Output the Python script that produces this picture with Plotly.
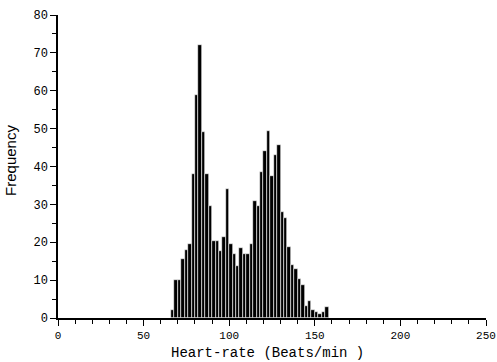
import plotly.graph_objects as go

# Heart-rate bin centres (2 beats/min bins) and frequencies
bin_centers = [67, 69, 71, 73, 75, 77, 79, 81, 83, 85, 87, 89, 91, 93, 95, 97, 99,
               101, 103, 105, 107, 109, 111, 113, 115, 117, 119, 121, 123, 125, 127,
               129, 131, 133, 135, 137, 139, 141, 143, 145, 147, 149, 151, 153, 155, 157]
frequencies = [2, 10, 10, 15.5, 18, 19.5, 38, 59, 72, 49, 38, 29.5, 20.3, 20.3, 17.7,
               21.5, 34, 19.5, 17, 13.7, 18.5, 17, 17, 19.5, 31, 29.5, 38.5, 44, 49.5,
               37.5, 43, 45.7, 28, 26.5, 18.8, 14, 13, 10.4, 8.6, 3.2, 4.5, 2, 1.7, 1, 1.5, 3]

x_ticks = [0, 50, 100, 150, 200, 250]
y_ticks = [0, 10, 20, 30, 40, 50, 60, 70, 80]

fig = go.Figure()
fig.add_trace(go.Bar(
    x=bin_centers, y=frequencies, width=2,
    marker=dict(color="black", line=dict(color="white", width=0.6)),
    showlegend=False,
))

mono = "Liberation Mono, DejaVu Sans Mono, monospace"
fig.update_layout(
    width=497, height=362,
    margin=dict(l=58, r=11, t=15, b=44),
    paper_bgcolor="white", plot_bgcolor="white",
    bargap=0,
    xaxis=dict(
        range=[0, 250], tickvals=x_ticks, ticktext=[str(v) for v in x_ticks],
        automargin=False,
        showgrid=False, zeroline=False, showline=True, linecolor="black", linewidth=1.5,
        ticks="outside", ticklen=6, tickwidth=1.2, tickcolor="black",
        minor=dict(dtick=10, ticks="outside", ticklen=4, tickcolor="black", tickwidth=1),
        tickfont=dict(family=mono, size=11, color="black"),
    ),
    yaxis=dict(
        range=[0, 80], tickvals=y_ticks, ticktext=[str(v) for v in y_ticks],
        automargin=False,
        showgrid=False, zeroline=False, showline=True, linecolor="black", linewidth=1.5,
        ticks="outside", ticklen=6, tickwidth=1.2, tickcolor="black",
        minor=dict(dtick=5, ticks="outside", ticklen=4, tickcolor="black", tickwidth=1),
        tickfont=dict(family=mono, size=12, color="black"),
    ),
    annotations=[
        dict(text="Heart-rate (Beats/min )", xref="paper", yref="paper", x=0.49, y=0,
             yshift=-25, xanchor="center", yanchor="top", showarrow=False,
             font=dict(family=mono, size=14, color="black")),
        dict(text="Frequency", xref="paper", yref="paper", x=0, y=0.52, xshift=-37,
             xanchor="right", yanchor="middle", textangle=-90, showarrow=False,
             font=dict(family="Liberation Sans, Arial, sans-serif", size=15, color="black")),
    ],
)

fig.write_html("out.html", config={"displayModeBar": False},
               post_script="document.body.style.margin='0';document.body.style.overflow='hidden';")
